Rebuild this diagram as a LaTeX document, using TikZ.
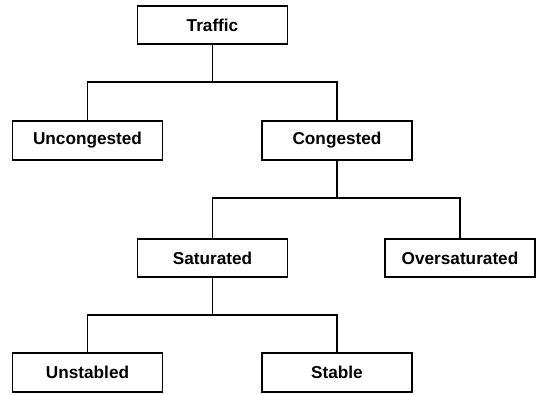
\documentclass[tikz,border=0pt]{standalone}
\usepackage{fontspec}
\setmainfont{Liberation Sans}[Ligatures=CommonOff]
\begin{document}
\begin{tikzpicture}[x=1pt,y=1pt,
  box/.style={draw=black, line width=1.7pt, minimum width=150pt, minimum height=38.5pt,
    inner sep=0pt, font=\fontsize{17.2}{20}\selectfont\bfseries, fill=white},
  conn/.style={draw=black, line width=1.7pt}]
\useasboundingbox (0,0) rectangle (538,394);
\node[box] (traffic) at (212.5,369) {Traffic};
\node[box] (uncong) at (87.5,253.5) {Uncongested};
\node[box] (cong) at (337,253.5) {Congested};
\node[box] (sat) at (212.5,136) {Saturated};
\node[box] (over) at (460,136) {Oversaturated};
\node[box] (unst) at (87.5,21.5) {Unstabled};
\node[box] (stab) at (337,21.5) {Stable};
\coordinate (b1) at (212.5,312);
\coordinate (b2) at (337,196);
\coordinate (b3) at (212.5,79);
\draw[conn] (traffic.south) -- (b1);
\draw[conn] (uncong.north) |- (b1) -| (cong.north);
\draw[conn] (cong.south) -- (b2);
\draw[conn] (sat.north) |- (b2) -| (over.north);
\draw[conn] (sat.south) -- (b3);
\draw[conn] (unst.north) |- (b3) -| (stab.north);
\end{tikzpicture}
\end{document}
